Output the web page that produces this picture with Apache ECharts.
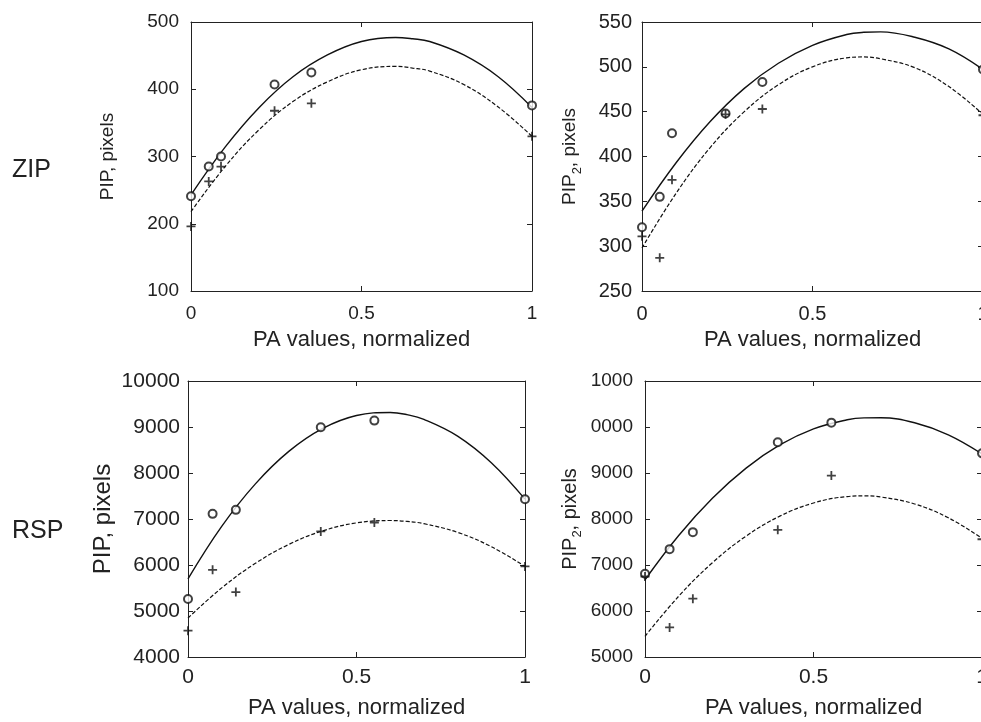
<!DOCTYPE html>
<html style="width: 100%; height: 100%">
<head>
    <meta charset="utf-8">
    <script src="https://cdn.jsdelivr.net/npm/echarts@6/dist/echarts.min.js"></script>
</head>
<body style="width: 100%; height: 100%; margin: 0; background: #fff">
<div id="container" style="width: 981px; height: 722px"></div>

<script type="text/javascript">
    // measured points (PA normalized on x)
    var xZip = [0, 0.052, 0.088, 0.245, 0.353, 1];
    var xRsp = [0, 0.073, 0.142, 0.394, 0.553, 1];

    var zipPipCirc = [241, 285, 300, 407, 425, 376];
    var zipPipPlus = [196, 263, 285, 368, 379, 330];
    var zipPip2Circ = [321, 355, 426, 448, 483, 497];
    var zipPip2Plus = [311, 287, 374, 447, 453, 446];
    var rspPipCirc = [5259, 7112, 7199, 8994, 9139, 7431];
    var rspPipPlus = [4572, 5896, 5411, 6729, 6924, 5969];
    var rspPip2Circ = [6810, 7345, 7714, 9668, 10095, 9430];
    var rspPip2Plus = [6750, 5644, 6267, 7765, 8945, 7560];

    // fitted curves
    var fitX = [0, 0.1, 0.2, 0.3, 0.4, 0.5, 0.6, 0.65, 0.7, 0.8, 0.9, 1];
    var zipPipSolid = [243, 314, 373, 419, 451, 471, 477, 475, 471, 451, 419, 373];
    var zipPipDash = [218, 285, 340, 382, 411, 429, 434, 431.5, 427, 407, 374, 330];
    var zipPip2Solid = [339, 393, 439, 476, 504, 524, 536, 538.5, 539, 533, 520, 497];
    var zipPip2Dash = [298, 359, 410, 450, 480, 500, 510, 511, 509, 499, 478, 447];
    var rspPipSolid = [5700, 6840, 7764, 8475, 8970, 9250, 9316, 9268, 9167, 8803, 8224, 7431];
    var rspPipDash = [4847, 5502, 6036, 6450, 6743, 6915, 6967, 6948, 6898, 6709, 6399, 5969];
    var rspPip2Solid = [6680, 7642, 8451, 9107, 9610, 9960, 10157, 10198, 10201, 10092, 9830, 9415];
    var rspPip2Dash = [5449, 6322, 7049, 7629, 8062, 8348, 8488, 8502, 8478, 8327, 8027, 7580];

    // tick labels
    var xTicks = ['0', '0.5', '1'];
    var zipPipTicks = ['100', '200', '300', '400', '500'];
    var zipPip2Ticks = ['250', '300', '350', '400', '450', '500', '550'];
    var rspPipTicks = ['4000', '5000', '6000', '7000', '8000', '9000', '10000'];
    var rspPip2Ticks = ['5000', '6000', '7000', '8000', '9000', '0000', '1000'];

    var FONT = 'Liberation Sans';
    var INK = '#111';
    var PLUS = 'path://M4,0H6V4H10V6H6V10H4V6H0V4H4Z';

    var panels = [
        {grid: {left: 191, top: 22, width: 341, height: 269}, yMin: 100, yStep: 100, yTicks: zipPipTicks,
            yName: 'PIP, pixels', xs: xZip, circ: zipPipCirc, plus: zipPipPlus, solid: zipPipSolid, dash: zipPipDash,
            tick: 19, xTick: 19, xMargin: 13, yNameSize: 19, yNameGap: 69, yMargin: 12, xNameGap: 38},
        {grid: {left: 642, top: 22, width: 341, height: 269}, yMin: 250, yStep: 50, yTicks: zipPip2Ticks,
            yName: 'PIP{s|2}, pixels', xs: xZip, circ: zipPip2Circ, plus: zipPip2Plus, solid: zipPip2Solid, dash: zipPip2Dash,
            tick: 20, xTick: 20, xMargin: 13, yNameSize: 19, yNameGap: 58, yMargin: 10, xNameGap: 38},
        {grid: {left: 188, top: 381, width: 337, height: 276}, yMin: 4000, yStep: 1000, yTicks: rspPipTicks,
            yName: 'PIP, pixels', xs: xRsp, circ: rspPipCirc, plus: rspPipPlus, solid: rspPipSolid, dash: rspPipDash,
            tick: 21, xTick: 21, xMargin: 10, yNameSize: 24, yNameGap: 67, yMargin: 8, xNameGap: 40},
        {grid: {left: 645, top: 381, width: 337, height: 276}, yMin: 5000, yStep: 1000, yTicks: rspPip2Ticks,
            yName: 'PIP{s|2}, pixels', xs: xRsp, circ: rspPip2Circ, plus: rspPip2Plus, solid: rspPip2Solid, dash: rspPip2Dash,
            tick: 19, xTick: 21, xMargin: 10, yNameSize: 20, yNameGap: 61, yMargin: 12, xNameGap: 40}
    ];

    function pairs(xs, ys) {
        return ys.map(function (v, i) { return [xs[i], v]; });
    }

    var dom = document.getElementById("container");
    var myChart = echarts.init(dom, null, {renderer: 'canvas'});

    var grids = [], xAxes = [], yAxes = [], series = [];
    var axisLine = {show: true, onZero: false, lineStyle: {color: '#222', width: 1}};
    var axisTick = {show: true, inside: true, length: 5, lineStyle: {color: '#222'}};

    panels.forEach(function (p, i) {
        var g = p.grid;
        grids.push({left: g.left, top: g.top, width: g.width, height: g.height, outerBoundsMode: 'none', containLabel: false});
        var yMax = p.yMin + p.yStep * (p.yTicks.length - 1);
        var xi = i * 2, yi = i * 2;
        xAxes.push({
            type: 'value', gridIndex: i, min: 0, max: 1, interval: 0.5, position: 'bottom',
            axisLine: axisLine, axisTick: axisTick, splitLine: {show: false},
            axisLabel: {
                color: '#222', fontFamily: FONT, fontSize: p.xTick, margin: p.xMargin, hideOverlap: false,
                formatter: function (v) { return xTicks[Math.round(v / 0.5)]; }
            },
            name: 'PA values, normalized', nameLocation: 'middle', nameGap: p.xNameGap,
            nameTextStyle: {color: '#222', fontFamily: FONT, fontSize: 22}
        });
        xAxes.push({
            type: 'value', gridIndex: i, min: 0, max: 1, interval: 0.5, position: 'top',
            axisLine: axisLine, axisTick: axisTick, axisLabel: {show: false}, splitLine: {show: false}
        });
        yAxes.push({
            type: 'value', gridIndex: i, min: p.yMin, max: yMax, interval: p.yStep, position: 'left',
            axisLine: axisLine, axisTick: axisTick, splitLine: {show: false},
            axisLabel: {
                color: '#222', fontFamily: FONT, fontSize: p.tick, margin: p.yMargin,
                formatter: function (v) { return p.yTicks[Math.round((v - p.yMin) / p.yStep)]; }
            },
            name: p.yName, nameLocation: 'middle', nameGap: p.yNameGap, nameRotate: 90,
            nameTextStyle: {
                color: '#222', fontFamily: FONT, fontSize: p.yNameSize, lineHeight: 28,
                rich: {s: {fontFamily: FONT, fontSize: 13, color: '#222', verticalAlign: 'bottom', lineHeight: 13}}
            }
        });
        yAxes.push({
            type: 'value', gridIndex: i, min: p.yMin, max: yMax, interval: p.yStep, position: 'right',
            axisLine: axisLine, axisTick: axisTick, axisLabel: {show: false}, splitLine: {show: false}
        });

        series.push({
            type: 'line', xAxisIndex: xi, yAxisIndex: yi, data: pairs(fitX, p.solid),
            smooth: 0.4, showSymbol: false, lineStyle: {color: INK, width: 1.4}, z: 2
        });
        series.push({
            type: 'line', xAxisIndex: xi, yAxisIndex: yi, data: pairs(fitX, p.dash),
            smooth: 0.4, showSymbol: false, lineStyle: {color: INK, width: 1.2, type: [4, 2]}, z: 2
        });
        series.push({
            type: 'scatter', xAxisIndex: xi, yAxisIndex: yi, data: pairs(p.xs, p.circ),
            symbol: 'emptyCircle', symbolSize: 8, itemStyle: {color: INK, borderColor: INK, borderWidth: 1}, z: 3
        });
        series.push({
            type: 'scatter', xAxisIndex: xi, yAxisIndex: yi, data: pairs(p.xs, p.plus),
            symbol: PLUS, symbolSize: 9, itemStyle: {color: INK}, z: 3
        });
    });

    var option = {
        backgroundColor: '#fff',
        animation: false,
        grid: grids,
        xAxis: xAxes,
        yAxis: yAxes,
        series: series,
        graphic: [
            {type: 'text', left: 12, top: 158, style: {text: 'ZIP', fontFamily: FONT, fontSize: 25, fill: '#222'}},
            {type: 'text', left: 12, top: 519, style: {text: 'RSP', fontFamily: FONT, fontSize: 25, fill: '#222'}}
        ]
    };
    myChart.setOption(option);
</script>
</body>
</html>
